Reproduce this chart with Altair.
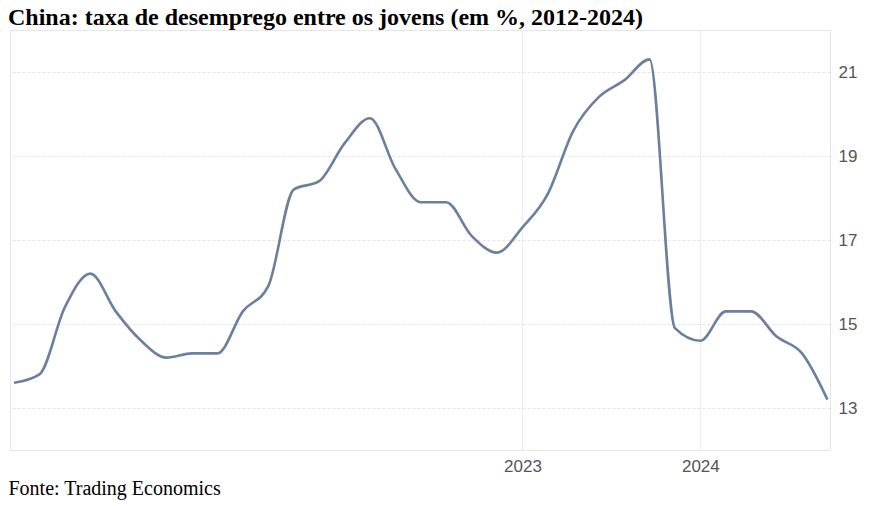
import altair as alt
import pandas as pd

months = [
    "2021-04", "2021-05", "2021-06", "2021-07", "2021-08", "2021-09", "2021-10",
    "2021-11", "2021-12", "2022-02", "2022-03", "2022-04", "2022-05", "2022-06",
    "2022-07", "2022-08", "2022-09", "2022-10", "2022-11", "2022-12", "2023-01",
    "2023-02", "2023-03", "2023-04", "2023-05", "2023-06", "2023-12", "2024-01",
    "2024-02", "2024-03", "2024-04", "2024-05", "2024-06",
]
rates = [
    13.6, 13.8, 15.4, 16.2, 15.3, 14.6, 14.2,
    14.3, 14.3, 15.3, 15.9, 18.2, 18.4, 19.3,
    19.9, 18.7, 17.9, 17.9, 17.1, 16.7, 17.3,
    18.1, 19.6, 20.4, 20.8, 21.3, 14.9, 14.6,
    15.3, 15.3, 14.7, 14.3, 13.2,
]
year_ticks = [20, 27]
year_labels = ["2023", "2024"]
y_ticks = [13, 15, 17, 19, 21]
title_text = "China: taxa de desemprego entre os jovens (em %, 2012-2024)"

df = pd.DataFrame({"idx": list(range(len(months))), "month": months, "rate": rates})

label_expr = " : ".join(
    f"datum.value == {v} ? '{l}'" for v, l in zip(year_ticks, year_labels)
) + " : ''"

line = (
    alt.Chart(df)
    .mark_line(color="#6b7f9e", strokeWidth=2.6, interpolate="monotone")
    .encode(
        x=alt.X(
            "idx:Q",
            scale=alt.Scale(domain=[-0.16, 32.1], nice=False, zero=False),
            axis=alt.Axis(
                values=year_ticks,
                labelExpr=label_expr,
                ticks=False,
                domain=False,
                grid=True,
                gridColor="#ececec",
                gridWidth=1,
                labelFont="Liberation Sans",
                labelFontSize=17,
                labelColor="#555555",
                labelPadding=8,
                title="Fonte: Trading Economics",
                titleFont="Liberation Serif",
                titleFontSize=20,
                titleFontWeight="normal",
                titleColor="#000000",
                titleAnchor="start",
                titleAlign="left",
                titleBaseline="alphabetic",
                titleX=-2,
                titleY=44,
            ),
        ),
        y=alt.Y(
            "rate:Q",
            scale=alt.Scale(domain=[12, 22], nice=False, zero=False),
            axis=alt.Axis(
                orient="right",
                values=y_ticks,
                ticks=False,
                domain=False,
                grid=True,
                gridColor="#e4e4e4",
                gridDash=[3, 2],
                labelFont="Liberation Sans",
                labelFontSize=17,
                labelColor="#555555",
                labelPadding=8,
                title=None,
            ),
        ),
    )
)

title_mark = (
    alt.Chart(pd.DataFrame({"t": [title_text]}))
    .mark_text(
        font="Liberation Serif",
        fontSize=24,
        fontWeight="bold",
        color="#000000",
        align="left",
        baseline="alphabetic",
    )
    .encode(text="t:N", x=alt.value(-2), y=alt.value(-5))
)

chart = (
    alt.layer(line, title_mark)
    .properties(
        width=820,
        height=420,
        autosize=alt.AutoSizeParams(type="none"),
        padding={"left": 2, "top": 22, "right": 36, "bottom": 60},
    )
    .configure_view(stroke="#e6e6e6", strokeWidth=1)
)

chart.save("out.html", embed_options={"renderer": "svg", "actions": False})
